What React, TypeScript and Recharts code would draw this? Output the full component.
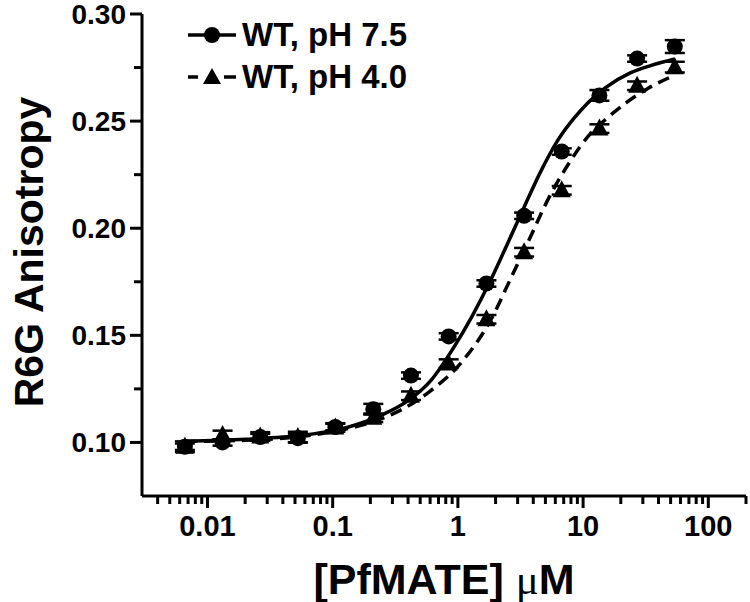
import { ComposedChart, Line, Scatter, XAxis, YAxis, ErrorBar, Legend } from 'recharts';

// concentrations (uM), 2-fold dilution series
const conc = [0.0066, 0.0132, 0.0264, 0.0527, 0.105, 0.211, 0.422, 0.844, 1.69, 3.38, 6.75, 13.5, 27, 54];

const anisoPH75 = [0.098, 0.1, 0.1025, 0.102, 0.1072, 0.1155, 0.1312, 0.1495, 0.1742, 0.2058, 0.2358, 0.262, 0.2792, 0.2848];
const errPH75 = [0.0015, 0.0015, 0.0015, 0.002, 0.0015, 0.0025, 0.0015, 0.0015, 0.0015, 0.0015, 0.0015, 0.0025, 0.0015, 0.003];

const anisoPH40 = [0.098, 0.1035, 0.1028, 0.1025, 0.107, 0.1115, 0.1218, 0.1368, 0.1575, 0.1888, 0.2177, 0.2465, 0.2665, 0.2752];
const errPH40 = [0.0025, 0.002, 0.002, 0.0025, 0.002, 0.002, 0.002, 0.002, 0.002, 0.002, 0.002, 0.002, 0.002, 0.0025];

// fitted curves
const fitConc75 = [0.0066, 0.02, 0.04, 0.07, 0.13, 0.24, 0.4, 0.61, 0.93, 1.3, 1.8, 2.5, 3.36, 4.5, 6.27, 8.5, 10.9, 15, 23.8, 35, 54];
const fit75 = [0.1005, 0.1015, 0.1025, 0.104, 0.107, 0.1125, 0.1195, 0.129, 0.1445, 0.159, 0.175, 0.193, 0.2095, 0.2255, 0.241, 0.2515, 0.2585, 0.2655, 0.2725, 0.276, 0.279];

const fitConc40 = [0.0066, 0.02, 0.05, 0.1, 0.243, 0.333, 0.58, 1.06, 1.83, 2.64, 3.6, 5.2, 7.96, 11, 15.7, 22, 32.6, 54];
const fit40 = [0.1005, 0.101, 0.1025, 0.105, 0.111, 0.1145, 0.1233, 0.1372, 0.1572, 0.1765, 0.193, 0.213, 0.2316, 0.243, 0.2516, 0.2585, 0.2651, 0.2715];

const xMajorTicks = [0.01, 0.1, 1, 10, 100];
const xMinorTicks = [
  0.004, 0.005, 0.006, 0.007, 0.008, 0.009,
  0.02, 0.03, 0.04, 0.05, 0.06, 0.07, 0.08, 0.09,
  0.2, 0.3, 0.4, 0.5, 0.6, 0.7, 0.8, 0.9,
  2, 3, 4, 5, 6, 7, 8, 9,
  20, 30, 40, 50, 60, 70, 80, 90, 200,
];
const xTickLabels = ['0.01', '0.1', '1', '10', '100'];

const yMajorTicks = [0.1, 0.15, 0.2, 0.25, 0.3];
const yMinorTicks = [0.125, 0.175, 0.225, 0.275];
const yTickLabels = ['0.10', '0.15', '0.20', '0.25', '0.30'];

const seriesNames = ['WT, pH 7.5', 'WT, pH 4.0'];

const pts75 = conc.map((c, i) => ({ x: c, y: anisoPH75[i], err: errPH75[i] }));
const pts40 = conc.map((c, i) => ({ x: c, y: anisoPH40[i], err: errPH40[i] }));
const curve75 = fitConc75.map((c, i) => ({ x: c, y: fit75[i] }));
const curve40 = fitConc40.map((c, i) => ({ x: c, y: fit40[i] }));

const FONT = 'Arial, "Liberation Sans", sans-serif';

function XTick(props: any) {
  const { x, y, payload } = props;
  const idx = xMajorTicks.indexOf(payload.value);
  const major = idx >= 0;
  return (
    <g>
      <line x1={x} x2={x} y1={y} y2={y + (major ? 12 : 8)} stroke="#000" strokeWidth={3} />
      {major && (
        <text x={x} y={y + 40} textAnchor="middle" fontFamily={FONT} fontWeight="bold" fontSize={29} fill="#000">
          {xTickLabels[idx]}
        </text>
      )}
    </g>
  );
}

function YTick(props: any) {
  const { x, y, payload } = props;
  const idx = yMajorTicks.findIndex((t) => Math.abs(t - payload.value) < 1e-9);
  const major = idx >= 0;
  return (
    <g>
      <line x1={x} x2={x - (major ? 12 : 8)} y1={y} y2={y} stroke="#000" strokeWidth={3} />
      {major && (
        <text x={x - 16} y={y + 10} textAnchor="end" fontFamily={FONT} fontWeight="bold" fontSize={28} fill="#000">
          {yTickLabels[idx]}
        </text>
      )}
    </g>
  );
}

const Circle = (props: any) => <circle cx={props.cx} cy={props.cy} r={8} fill="#000" />;
const Triangle = (props: any) => {
  const { cx, cy } = props;
  return <polygon points={`${cx},${cy - 10} ${cx - 9},${cy + 7} ${cx + 9},${cy + 7}`} fill="#000" />;
};

function LegendBox() {
  const rowStyle = { display: 'flex', alignItems: 'center', height: 42 } as const;
  const textStyle = { fontFamily: FONT, fontWeight: 'bold', fontSize: 33, color: '#000', marginLeft: 6, lineHeight: '42px' } as const;
  return (
    <div>
      <div style={rowStyle}>
        <svg width={48} height={20}>
          <line x1={0} x2={48} y1={10} y2={10} stroke="#000" strokeWidth={3.5} />
          <circle cx={24} cy={10} r={8} fill="#000" />
        </svg>
        <span style={textStyle}>{seriesNames[0]}</span>
      </div>
      <div style={rowStyle}>
        <svg width={48} height={20}>
          <line x1={0} x2={10} y1={10} y2={10} stroke="#000" strokeWidth={3.5} />
          <line x1={36} x2={48} y1={10} y2={10} stroke="#000" strokeWidth={3.5} />
          <polygon points="24,1 15,17 33,17" fill="#000" />
        </svg>
        <span style={textStyle}>{seriesNames[1]}</span>
      </div>
    </div>
  );
}

export default function App() {
  return (
    <div style={{ position: 'absolute', left: 0, top: 0, width: 750, height: 602, background: '#fff' }}>
      <ComposedChart width={750} height={602} margin={{ top: 14, right: 4, left: 0, bottom: 0 }}>
        <XAxis
          type="number"
          dataKey="x"
          scale="log"
          domain={[0.003, 200]}
          allowDataOverflow
          ticks={[...xMajorTicks, ...xMinorTicks]}
          interval={0}
          tick={<XTick />}
          tickLine={false}
          tickSize={0}
          tickMargin={0}
          axisLine={{ stroke: '#000', strokeWidth: 3 }}
          height={106}
          label={(p: any) => {
            const vb = p.viewBox || { x: 142, y: 496, width: 604 };
            return (
              <text x={vb.x + vb.width / 2} y={vb.y + 98} textAnchor="middle" fontFamily={FONT} fontWeight="bold" fontSize={43} fill="#000">
                [PfMATE]{' '}
                <tspan fontFamily='"Liberation Serif", serif' fontWeight="normal">μ</tspan>M
              </text>
            );
          }}
        />
        <YAxis
          type="number"
          dataKey="y"
          domain={[0.075, 0.3]}
          allowDataOverflow
          ticks={[...yMajorTicks, ...yMinorTicks]}
          interval={0}
          tick={<YTick />}
          tickLine={false}
          tickSize={0}
          tickMargin={0}
          axisLine={{ stroke: '#000', strokeWidth: 3 }}
          width={142}
          label={() => (
            <text x={43} y={252} transform="rotate(-90 43 252)" textAnchor="middle" fontFamily={FONT} fontWeight="bold" fontSize={41} fill="#000">
              R6G Anisotropy
            </text>
          )}
        />
        <Legend layout="vertical" align="center" verticalAlign="middle" content={<LegendBox />} wrapperStyle={{ left: 188, top: 14, width: 'auto', height: 'auto' }} />
        <Line data={curve75} dataKey="y" type="monotone" stroke="#000" strokeWidth={3.5} dot={false} activeDot={false} isAnimationActive={false} legendType="none" />
        <Line data={curve40} dataKey="y" type="monotone" stroke="#000" strokeWidth={3.5} strokeDasharray="12 7" dot={false} activeDot={false} isAnimationActive={false} legendType="none" />
        <Scatter data={pts75} dataKey="y" shape={<Circle />} isAnimationActive={false} legendType="none">
          <ErrorBar dataKey="err" direction="y" width={10} stroke="#000" strokeWidth={2.5} />
        </Scatter>
        <Scatter data={pts40} dataKey="y" shape={<Triangle />} isAnimationActive={false} legendType="none">
          <ErrorBar dataKey="err" direction="y" width={10} stroke="#000" strokeWidth={2.5} />
        </Scatter>
      </ComposedChart>
    </div>
  );
}
